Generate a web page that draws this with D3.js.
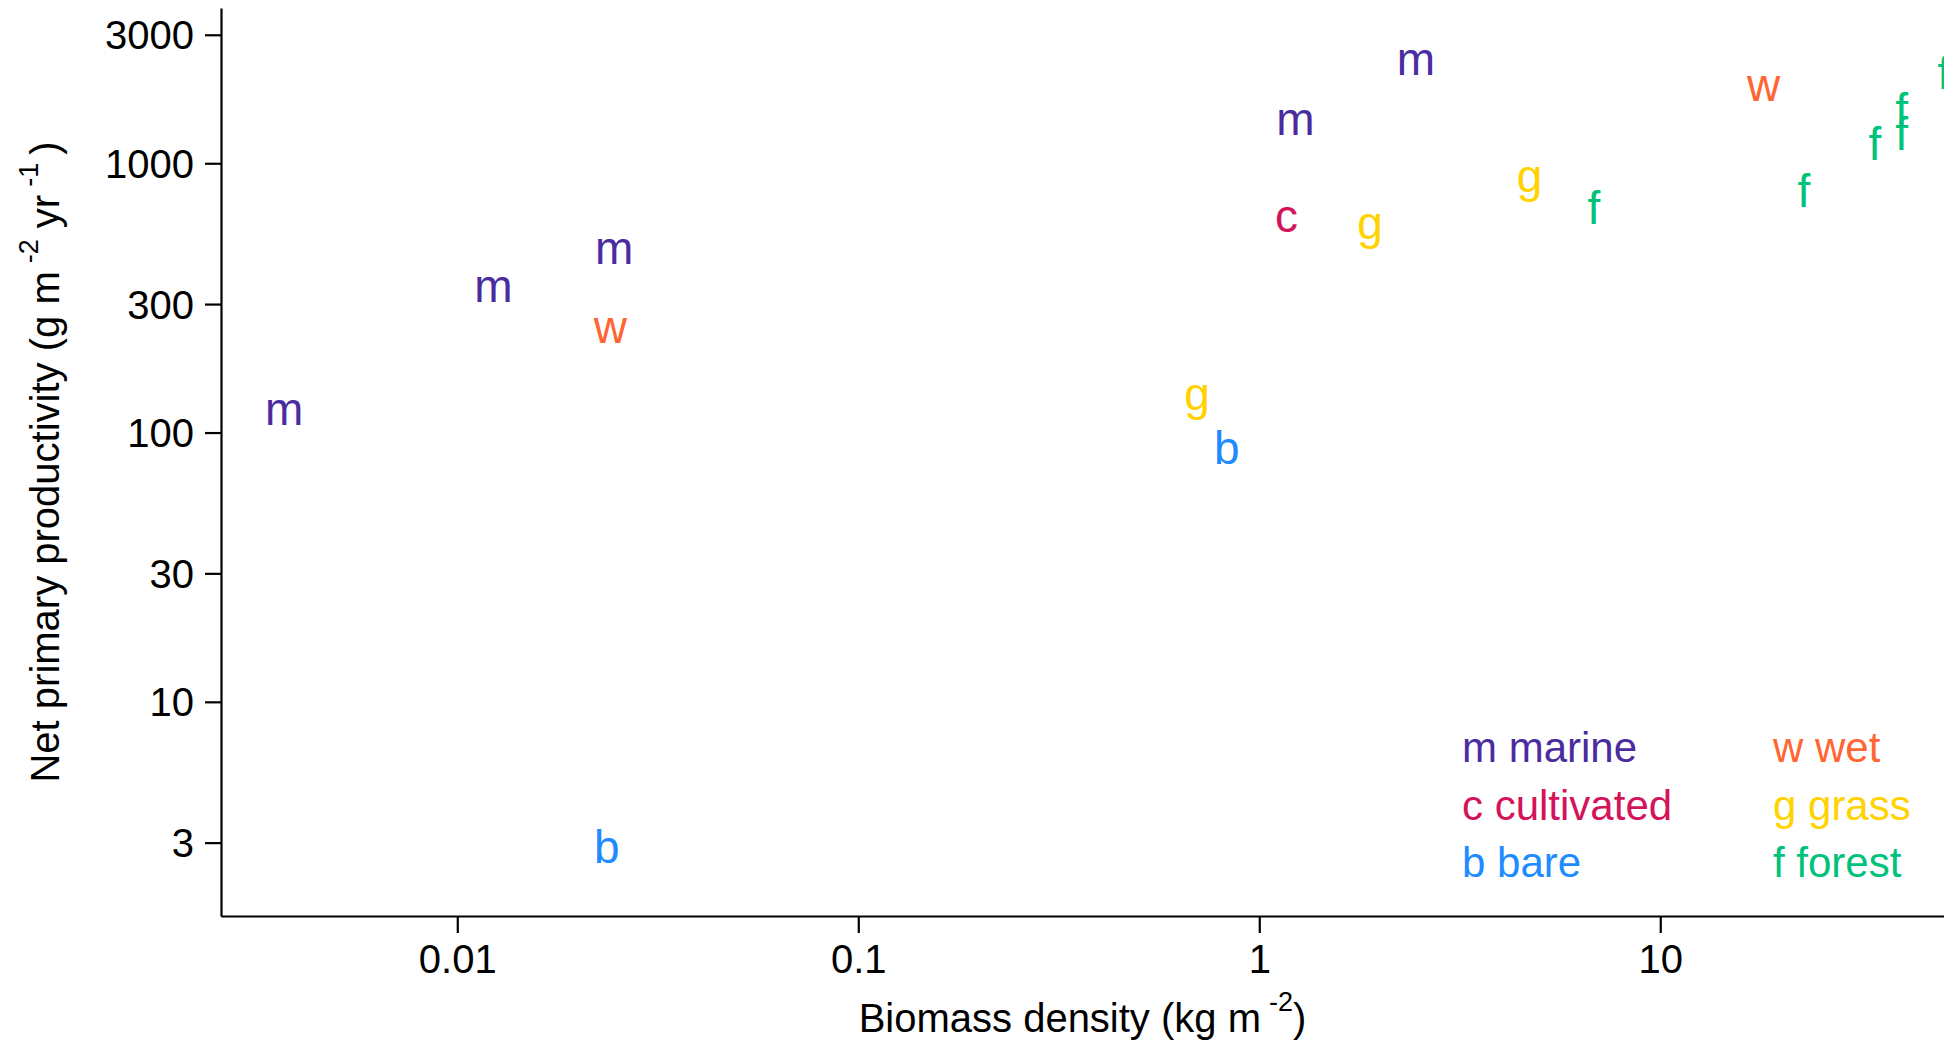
<!DOCTYPE html>
<meta charset="utf-8">
<head>
  <title>Biomass vs NPP</title>
  <style>
    body { margin: 0; background: #fff; }
    text { font-family: "Liberation Sans", Arial, Helvetica, sans-serif; }
  </style>
</head>
<body>
<script src="https://d3js.org/d3.v7.min.js"></script>

<div id="my_dataviz"></div>

<script>

// ecosystem type of each point (letter drawn at the point)
var pointType = ["m","m","m","w","b","g","b","c","m","m","g","g","f","w","f","f","f","f","f"];
// biomass density, kg m-2
var biomass   = [0.0037,0.0123,0.0246,0.0241,0.0236,0.70,0.83,1.17,1.23,2.46,1.89,4.72,6.83,18.1,22.8,34.3,40,40,51];
// net primary productivity, g m-2 yr-1
var npp       = [121,348,483,244,2.86,138,87,630,1456,2417,595,892,680,1940,780,1170,1560,1270,2140];

// legend, column by column
var legendKeys   = ["m","c","b","w","g","f"];
var legendLabels = ["marine","cultivated","bare","wet","grass","forest"];
var legendColors = ["#4b2c9f","#d4145a","#1e8cff","#ff6633","#ffd200","#00c27a"];

var xTicks = [0.01, 0.1, 1, 10];
var yTicks = [3, 10, 30, 100, 300, 1000, 3000];

var color = d3.scaleOrdinal().domain(legendKeys).range(legendColors);

// set the dimensions and margins of the graph
var W = 1944, H = 1047,
    margin = {top: 8, right: 0, bottom: 131, left: 221};

var svg = d3.select("#my_dataviz")
  .append("svg")
    .attr("width", W)
    .attr("height", H);

var x = d3.scaleLog()
    .domain([0.002575, 51.0])
    .range([margin.left, W - margin.right]);

var y = d3.scaleLog()
    .domain([1.602, 3772])
    .range([H - margin.bottom, margin.top]);

// axes (R style, bty = "l")
var xAxis = svg.append("g")
    .attr("transform", "translate(0," + (H - margin.bottom) + ")")
    .call(d3.axisBottom(x).tickValues(xTicks).tickFormat(d3.format("~g"))
      .tickSizeInner(17).tickSizeOuter(0).tickPadding(12));

var yAxis = svg.append("g")
    .attr("transform", "translate(" + margin.left + ",0)")
    .call(d3.axisLeft(y).tickValues(yTicks).tickFormat(d3.format("d"))
      .tickSizeInner(16).tickSizeOuter(0).tickPadding(11));

[xAxis, yAxis].forEach(function(a) {
  a.select(".domain").attr("stroke", "#000").attr("stroke-width", 2.2);
  a.selectAll(".tick line").attr("stroke", "#000").attr("stroke-width", 2.2);
  a.selectAll(".tick text")
    .attr("fill", "#000")
    .style("font-size", "40px");
});
xAxis.selectAll(".tick text").attr("dy", "0.71em");
yAxis.selectAll(".tick text").attr("dy", "0.35em");

// axis titles with superscripts: raise the sup, drop back on the next part
function supTitle(sel, parts) {
  var shift = 0;
  parts.forEach(function(p) {
    var t = sel.append("tspan").text(p.t);
    if (p.sup) {
      t.attr("dy", -21).style("font-size", "27px");
      shift = 21;
    } else if (shift) {
      t.attr("dy", shift);
      shift = 0;
    }
  });
}

var xTitle = svg.append("text")
    .attr("x", (margin.left + W - margin.right) / 2)
    .attr("y", 1032)
    .attr("text-anchor", "middle")
    .style("font-size", "40px");
supTitle(xTitle, [{t: "Biomass density (kg m\u2009"}, {t: "-2", sup: true}, {t: ")"}]);

var yTitle = svg.append("text")
    .attr("transform", "translate(59," + ((margin.top + H - margin.bottom) / 2) + ") rotate(-90)")
    .attr("text-anchor", "middle")
    .style("font-size", "40px");
supTitle(yTitle, [{t: "Net primary productivity (g m\u2009"}, {t: "-2", sup: true},
                  {t: " yr\u2009"}, {t: "-1", sup: true}, {t: "\u2009)"}]);

// the points, drawn as letters
svg.append("g")
  .selectAll("text")
  .data(pointType)
  .enter()
  .append("text")
    .attr("x", function(d, i) { return x(biomass[i]); })
    .attr("y", function(d, i) { return y(npp[i]); })
    .attr("dy", "0.33em")
    .attr("text-anchor", "middle")
    .style("font-size", "46px")
    .style("fill", function(d) { return color(d); })
    .text(function(d) { return d; });

// legend, two columns of three
var legend = svg.append("g")
  .selectAll("text")
  .data(legendKeys)
  .enter()
  .append("text")
    .attr("x", function(d, i) { return i < 3 ? 1462 : 1773; })
    .attr("y", function(d, i) { return 762 + (i % 3) * 57.5; })
    .style("font-size", "42px")
    .style("fill", function(d) { return color(d); })
    .text(function(d, i) { return d + " " + legendLabels[i]; });

</script>
</body>
</html>
